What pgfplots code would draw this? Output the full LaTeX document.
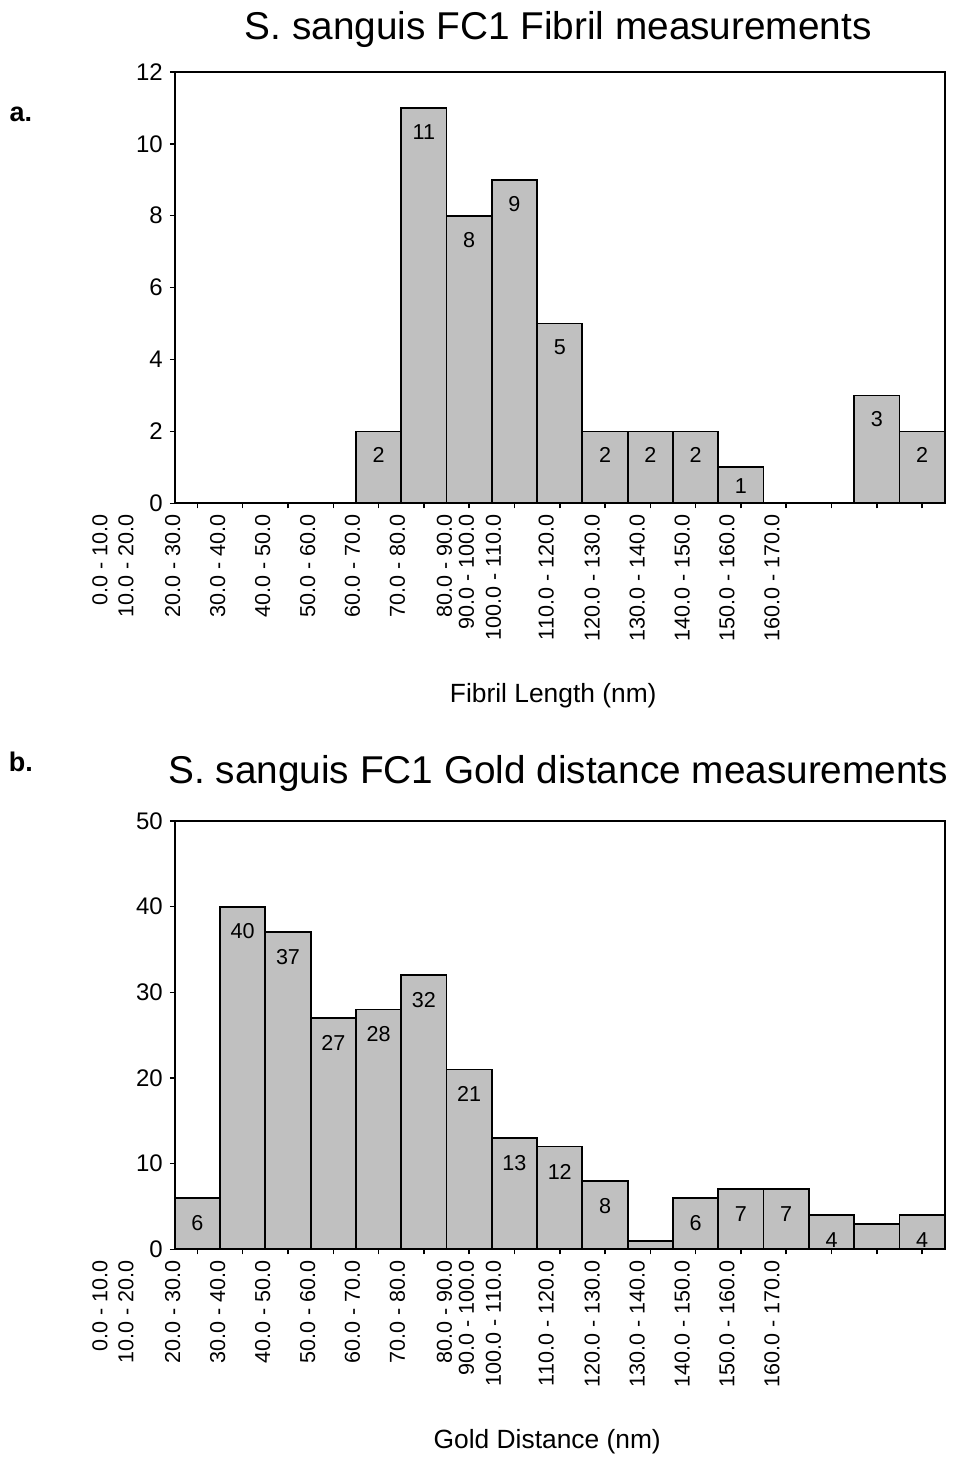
\documentclass[border=0pt]{standalone}
\usepackage{fontspec}
\setmainfont{Liberation Sans}
\usepackage{pgfplots}
\pgfplotsset{compat=1.18}
\definecolor{barfill}{RGB}{192,192,192}
\tikzset{binlab/.style={yshift=-5.5pt, rotate=90, anchor=east, inner sep=0pt, font=\fontsize{10.8}{12}\selectfont}}
\pgfplotsset{
  histo/.style={
    scale only axis, width=385.5pt,
    xmin=0, xmax=17, ymin=0,
    clip=false,
    axis line style={line width=1pt},
    tick align=outside,
    xtick pos=bottom, ytick pos=left,
    major tick length=2.5pt,
    every tick/.style={black, line width=0.75pt},
    xtick={0.5,1.5,...,16.5},
    xticklabel style={opacity=0},
    /pgf/number format/assume math mode=true,
    yticklabel style={font=\fontsize{12}{14}\selectfont},
  },
  bars/.style={ybar, bar width=1, bar shift=0pt, fill=barfill, draw=black, line width=0.9pt},
  vlab/.style={nodes near coords, every node near coord/.append style={anchor=center, yshift=#1, font=\fontsize{10.8}{12}\selectfont, black}},
}
\newcommand\binlabels{%
  \foreach \p/\t in {-1.654/0.0 - 10.0, -1.080/10.0 - 20.0, -0.044/20.0 - 30.0, 0.948/30.0 - 40.0,
    1.940/40.0 - 50.0, 2.933/50.0 - 60.0, 3.925/60.0 - 70.0, 4.917/70.0 - 80.0, 5.953/80.0 - 90.0,
    6.438/90.0 - 100.0, 7.034/100.0 - 110.0, 8.202/110.0 - 120.0, 9.217/120.0 - 130.0,
    10.209/130.0 - 140.0, 11.201/140.0 - 150.0, 12.193/150.0 - 160.0, 13.186/160.0 - 170.0}{%
    \edef\tmp{\noexpand\node[binlab] at (axis cs:\p,0) {\t};}\tmp
  }}
\begin{document}
\begin{tikzpicture}
\path (0,0) rectangle (475.5pt,-730.5pt);
% ---------- panel a ----------
\begin{axis}[histo, at={(87.5pt,-252pt)}, anchor=south west, height=216pt,
  ymax=12, ytick={0,2,...,12}]
\addplot[bars, vlab=-12pt] coordinates {(4.5,2) (5.5,11) (6.5,8) (7.5,9) (8.5,5) (9.5,2) (10.5,2) (11.5,2) (15.5,3) (16.5,2)};
\addplot[bars, vlab=-9.5pt] coordinates {(12.5,1)};
\binlabels
\end{axis}
% ---------- panel b ----------
\begin{axis}[histo, at={(87.5pt,-625.5pt)}, anchor=south west, height=214.5pt,
  ymax=50, ytick={0,10,...,50}]
\addplot[bars, vlab=-12.5pt] coordinates {(0.5,6) (1.5,40) (2.5,37) (3.5,27) (4.5,28) (5.5,32) (6.5,21) (7.5,13) (8.5,12) (9.5,8) (11.5,6) (12.5,7) (13.5,7) (14.5,4) (16.5,4)};
\addplot[bars] coordinates {(10.5,1) (15.5,3)};
\binlabels
\end{axis}
% ---------- texts ----------
\node[font=\fontsize{19.4}{23}\selectfont] at (279.5pt,-15pt) {S. sanguis FC1 Fibril measurements};
\node[font=\fontsize{19.4}{23}\selectfont] at (279.5pt,-387.5pt) {S. sanguis FC1 Gold distance measurements};
\node[font=\fontsize{13.2}{15}\selectfont] at (277pt,-348.5pt) {Fibril Length (nm)};
\node[font=\fontsize{13.2}{15}\selectfont] at (274pt,-722pt) {Gold Distance (nm)};
\node[font=\fontsize{13.5}{15}\selectfont\bfseries] at (10.5pt,-57.5pt) {a.};
\node[font=\fontsize{13.5}{15}\selectfont\bfseries] at (10.5pt,-381.5pt) {b.};
\end{tikzpicture}
\end{document}
